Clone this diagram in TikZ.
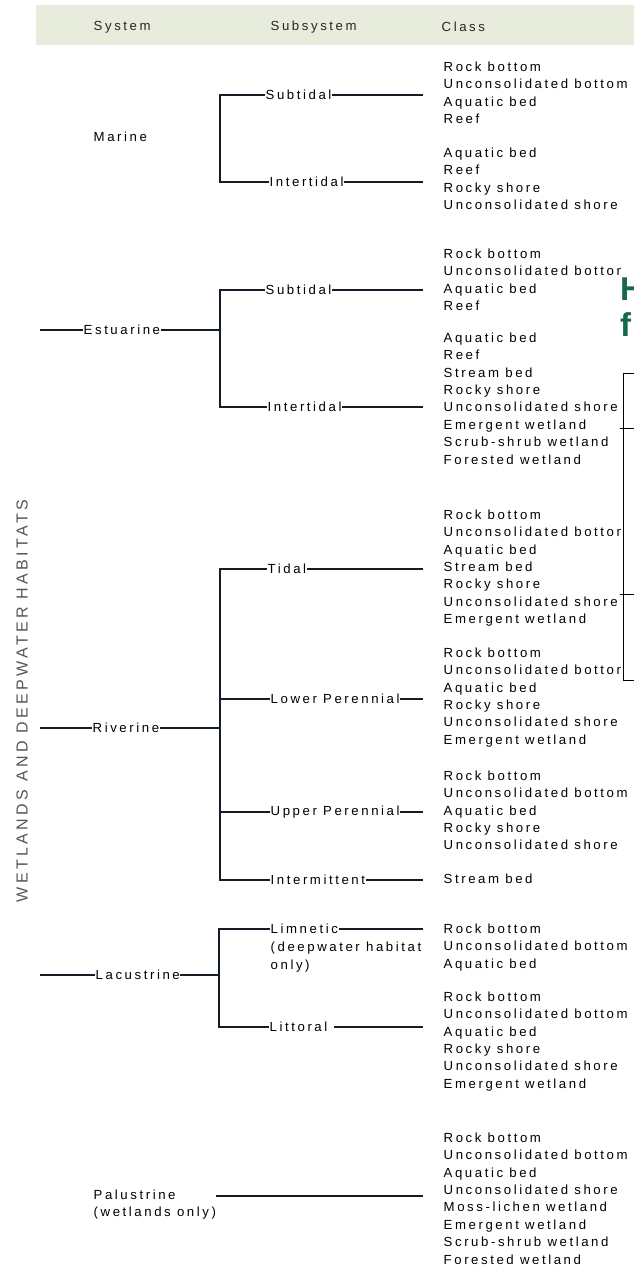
\documentclass[tikz,border=0pt]{standalone}
\usepackage{fontspec}
\setmainfont{Liberation Sans}[LetterSpace=19.5]
\newfontfamily\spinefont{Liberation Sans}[LetterSpace=21]
\usetikzlibrary{positioning}
\definecolor{bandkhaki}{RGB}{232,236,221}
\definecolor{linknavy}{RGB}{20,28,40}
\definecolor{titlegreen}{RGB}{22,104,74}
\definecolor{spinegray}{RGB}{85,85,85}

\begin{document}
\begin{tikzpicture}[x=1pt,y=-1pt,
    every node/.style={inner sep=0.5pt},
    link/.style={draw=linknavy,line width=1.3pt},
    colhead/.style={anchor=west,font=\fontsize{13.2}{17.4}\selectfont,black!85},
    sysname/.style={anchor=west,font=\fontsize{13.2}{17.4}\selectfont},
    subname/.style={anchor=west,font=\fontsize{13.2}{17.4}\selectfont},
    classlist/.style={anchor=north west,align=left,font=\fontsize{13.2}{17.4}\selectfont}]
    \useasboundingbox (0,0) rectangle (634,1269);

    % Kopfzeile
    \fill[bandkhaki] (36,5) rectangle (634,45);
    \node[colhead] (hsys) at (93,27) {System};
    \node[colhead] (hsub) at (270,27) {Subsystem};
    \node[colhead] (hcls) at (441,27) {Class};

    % Beschriftung links
    \node[rotate=90,font=\spinefont\fontsize{16}{18}\selectfont,spinegray] (spine) at (22,701) {WETLANDS AND DEEPWATER HABITATS};

    % Rechte Kante der Klassenspalte
    \coordinate (clsx) at (423,0);

    % Marine
    \node[sysname] (marine) at (93,137) {Marine};
    \node[subname] (marsub) at (265,95) {Subtidal};
    \node[subname] (marint) at (269,182) {Intertidal};
    \coordinate (marspine) at (220,137);
    \draw[link] (marsub.west) -| (marspine) |- (marint.west);
    \draw[link] (marsub.east) -- (marsub.east -| clsx);
    \draw[link] (marint.east) -- (marint.east -| clsx);
    \node[classlist] (marsubcls) at (443,61) {Rock bottom\\Unconsolidated bottom\\Aquatic bed\\Reef};
    \node[classlist] (marintcls) at (443,147) {Aquatic bed\\Reef\\Rocky shore\\Unconsolidated shore};

    % Estuarine
    \coordinate (eststart) at (40,330);
    \node[sysname] (estuarine) at (83,330) {Estuarine};
    \node[subname] (estsub) at (265,290) {Subtidal};
    \node[subname] (estint) at (267,407) {Intertidal};
    \coordinate (estspine) at (220,330);
    \draw[link] (eststart) -- (estuarine.west);
    \draw[link] (estuarine.east) -- (estspine);
    \draw[link] (estsub.west) -| (estspine) |- (estint.west);
    \draw[link] (estsub.east) -- (estsub.east -| clsx);
    \draw[link] (estint.east) -- (estint.east -| clsx);
    \node[classlist] (estsubcls) at (443,248) {Rock bottom\\Unconsolidated bottom\\Aquatic bed\\Reef};
    \node[classlist] (estintcls) at (443,332) {Aquatic bed\\Reef\\Stream bed\\Rocky shore\\Unconsolidated shore\\Emergent wetland\\Scrub-shrub wetland\\Forested wetland};

    % Riverine
    \coordinate (rivstart) at (40,728);
    \node[sysname] (riverine) at (92,728) {Riverine};
    \node[subname] (rivtid) at (267,569) {Tidal};
    \node[subname] (rivlow) at (270,699) {Lower Perennial};
    \node[subname] (rivup) at (270,812) {Upper Perennial};
    \node[subname] (rivint) at (270,880) {Intermittent};
    \coordinate (rivspine) at (220,728);
    \draw[link] (rivstart) -- (riverine.west);
    \draw[link] (riverine.east) -- (rivspine);
    \draw[link] (rivtid.west) -| (rivspine) |- (rivint.west);
    \draw[link] (rivlow.west) -- (rivlow.west -| rivspine);
    \draw[link] (rivup.west) -- (rivup.west -| rivspine);
    \foreach \s in {rivtid,rivlow,rivup,rivint}
        \draw[link] (\s.east) -- (\s.east -| clsx);
    \node[classlist] (rivtidcls) at (443,509) {Rock bottom\\Unconsolidated bottom\\Aquatic bed\\Stream bed\\Rocky shore\\Unconsolidated shore\\Emergent wetland};
    \node[classlist] (rivlowcls) at (443,647) {Rock bottom\\Unconsolidated bottom\\Aquatic bed\\Rocky shore\\Unconsolidated shore\\Emergent wetland};
    \node[classlist] (rivupcls) at (443,770) {Rock bottom\\Unconsolidated bottom\\Aquatic bed\\Rocky shore\\Unconsolidated shore};
    \node[classlist] (rivintcls) at (443,873) {Stream bed};

    % Lacustrine
    \coordinate (lacstart) at (40,975);
    \node[sysname] (lacustrine) at (95,975) {Lacustrine};
    \node[subname] (laclim) at (270,929) {Limnetic};
    \node[classlist,below=7pt of laclim.south west,anchor=north west] (laclimnote) {(deepwater habitat\\only)};
    \node[subname] (laclit) at (269,1027) {Littoral};
    \coordinate (lacspine) at (219,975);
    \draw[link] (lacstart) -- (lacustrine.west);
    \draw[link] (lacustrine.east) -- (lacspine);
    \draw[link] (laclim.west) -| (lacspine) |- (laclit.west);
    \draw[link] (laclim.east) -- (laclim.east -| clsx);
    \draw[link] ([xshift=6pt]laclit.east) -- (laclit.east -| clsx);
    \node[classlist] (laclimcls) at (443,923) {Rock bottom\\Unconsolidated bottom\\Aquatic bed};
    \node[classlist] (laclitcls) at (443,991) {Rock bottom\\Unconsolidated bottom\\Aquatic bed\\Rocky shore\\Unconsolidated shore\\Emergent wetland};

    % Palustrine
    \node[classlist] (palustrine) at (93,1189) {Palustrine\\(wetlands only)};
    \coordinate (palL) at (216,1196);
    \coordinate (palR) at (423,1196);
    \draw[link] (palL) -- (palR);
    \node[classlist] (palcls) at (443,1132) {Rock bottom\\Unconsolidated bottom\\Aquatic bed\\Unconsolidated shore\\Moss-lichen wetland\\Emergent wetland\\Scrub-shrub wetland\\Forested wetland};

    % ueberlagerter Rand rechts
    \fill[white] (621,264) rectangle (634,680);
    \draw[black,line width=0.8pt] (634,373) -- (623,373) -- (623,680) -- (634,680);
    \draw[black,line width=0.8pt] (620,428) -- (634,428);
    \draw[black,line width=0.8pt] (620,594) -- (634,594);
    \node[anchor=north west,align=left,inner sep=0pt,titlegreen,font=\bfseries\fontsize{33}{36}\selectfont] (ttl) at (620,278) {H\\f};
\end{tikzpicture}
\end{document}
